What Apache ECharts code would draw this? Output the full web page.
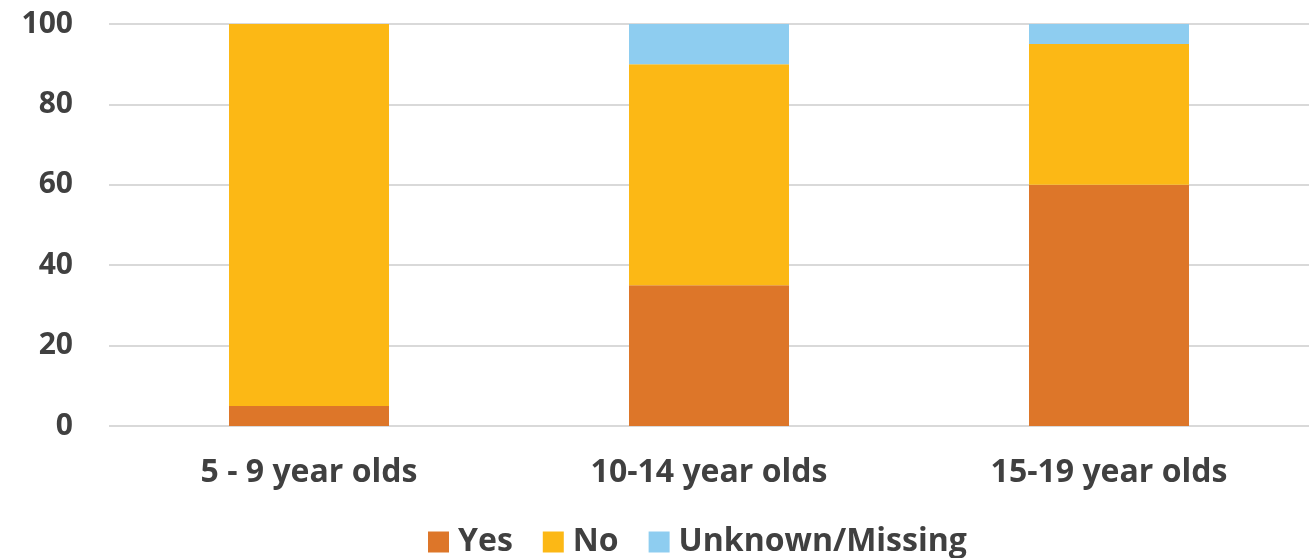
<!DOCTYPE html>
<html lang="en">
<head>
    <meta charset="UTF-8">
    <title>Stacked bars</title>
    <script src="https://cdn.jsdelivr.net/npm/echarts@6/dist/echarts.min.js"></script>
    <style>
        html, body { margin: 0; padding: 0; background: #fff; }
        #main { width: 1309px; height: 558px; }
    </style>
</head>
<body>
    <div id="main"></div>
<script>
    var categories = ['5 - 9 year olds', '10-14 year olds', '15-19 year olds'];
    var yes = [5, 35, 60];
    var no = [95, 55, 35];
    var unknown = [0, 10, 5];

    var chart = echarts.init(document.getElementById('main'));
    var font = 'Open Sans';
    var textColor = '#404040';

    function bar(name, data, color) {
        return {
            name: name,
            type: 'bar',
            stack: 'all',
            barWidth: 160,
            data: data,
            itemStyle: { color: color }
        };
    }

    var option = {
        animation: false,
        grid: { left: 109, right: 0, top: 24, bottom: 132 },
        legend: {
            bottom: -5,
            left: 423,
            itemWidth: 21,
            itemHeight: 21,
            itemGap: 30,
            icon: 'rect',
            textStyle: { fontFamily: font, fontWeight: 'bold', fontSize: 32, color: textColor, padding: [0, 0, 0, 4] }
        },
        xAxis: {
            type: 'category',
            data: categories,
            axisLine: { show: false },
            axisTick: { show: false },
            axisLabel: { margin: 31, fontFamily: font, fontWeight: 'bold', fontSize: 32, color: textColor }
        },
        yAxis: {
            type: 'value',
            min: 0,
            max: 100,
            interval: 20,
            axisLine: { show: false },
            axisTick: { show: false },
            splitLine: { lineStyle: { color: '#d9d9d9', width: 2 } },
            axisLabel: { margin: 36, fontFamily: font, fontWeight: 'bold', fontSize: 30, color: textColor }
        },
        series: [
            bar('Yes', yes, '#dd7629'),
            bar('No', no, '#fcb815'),
            bar('Unknown/Missing', unknown, '#8ecdf0')
        ]
    };

    chart.setOption(option);
</script>
</body>
</html>
